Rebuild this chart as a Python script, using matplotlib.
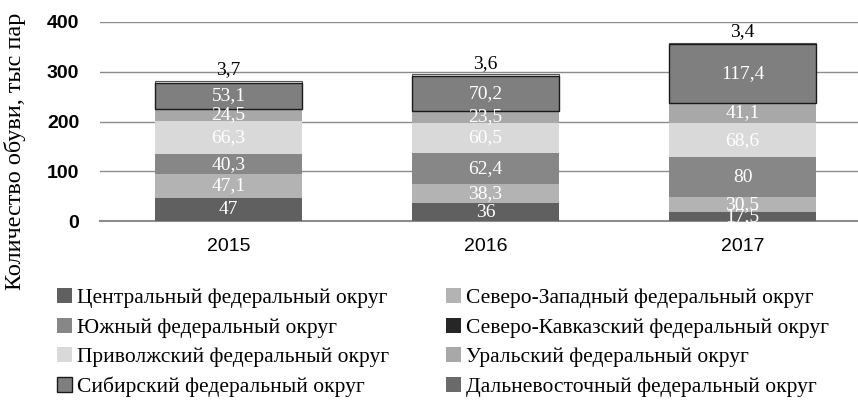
import matplotlib
matplotlib.use("Agg")
import matplotlib.pyplot as plt
from matplotlib.patches import Patch
import numpy as np

years = ["2015", "2016", "2017"]
series_names = [
    "Центральный федеральный округ",
    "Северо-Западный федеральный округ",
    "Южный федеральный округ",
    "Северо-Кавказский федеральный округ",
    "Приволжский федеральный округ",
    "Уральский федеральный округ",
    "Сибирский федеральный округ",
    "Дальневосточный федеральный округ",
]
central = [47, 36, 17.5]
northwest = [47.1, 38.3, 30.5]
south = [40.3, 62.4, 80]
caucasus = [0, 0, 0]
volga = [66.3, 60.5, 68.6]
ural = [24.5, 23.5, 41.1]
siberia = [53.1, 70.2, 117.4]
fareast = [3.7, 3.6, 3.4]
yticks = [0, 100, 200, 300, 400]

series = [central, northwest, south, caucasus, volga, ural, siberia, fareast]
colors = ["#606060", "#b3b3b3", "#878787", "#262626", "#d9d9d9", "#a8a8a8", "#7f7f7f", "#6a6a6a"]

fig = plt.figure(figsize=(8.58, 4.16), dpi=100)
ax = fig.add_axes([100/858, (416-221)/416, (858-100)/858, (221-22)/416])

x = np.arange(len(years))
bottom = np.zeros(len(years))
width = 0.57
serif = "Liberation Serif"
for i, vals in enumerate(series):
    vals = np.array(vals, dtype=float)
    if i == 6:
        ax.bar(x, vals, width, bottom=bottom, color=colors[i], edgecolor="#1a1a1a", linewidth=1.0, zorder=3)
    elif i == 7:
        ax.bar(x, vals, width, bottom=bottom, color="white", edgecolor="#555555", linewidth=0.8, zorder=2)
    else:
        ax.bar(x, vals, width, bottom=bottom, color=colors[i], linewidth=0, zorder=3)
    for j, v in enumerate(vals):
        if v <= 0:
            continue
        lab = ("%g" % v).replace(".", ",")
        if i == 7:
            ax.annotate(lab, (x[j], bottom[j] + v), xytext=(0, 2), textcoords="offset points",
                        ha="center", va="bottom", fontsize=14, family=serif, color="black", zorder=5)
        else:
            ax.text(x[j], bottom[j] + v / 2, lab, ha="center", va="center", fontsize=14,
                    family=serif, color="white", zorder=5)
    bottom += vals

ax.set_ylim(0, 400)
ax.set_yticks(yticks)
ax.set_xlim(-0.5, -0.5 + (858 - 100) / 257)
ax.set_xticks(x)
ax.set_xticklabels(years)
ax.yaxis.grid(True, color="#8c8c8c", linewidth=1.0, zorder=0)
ax.set_axisbelow(True)
for s in ["top", "right", "left"]:
    ax.spines[s].set_visible(False)
ax.spines["bottom"].set_color("#8c8c8c")
ax.spines["bottom"].set_linewidth(1.5)
ax.tick_params(axis="both", length=0)
ax.tick_params(axis="y", pad=15)
ax.tick_params(axis="x", pad=12)
for t in ax.get_yticklabels() + ax.get_xticklabels():
    t.set_fontfamily("Liberation Sans")
    t.set_fontsize(14)
for t in ax.get_yticklabels():
    t.set_fontweight("bold")

fig.text(15/858, 1 - 151/416, "Количество обуви, тыс пар", rotation=90, ha="center", va="center",
         fontsize=17.5, family=serif)

handles = [Patch(facecolor=c, edgecolor=("#1a1a1a" if k == 6 else c), linewidth=(1.0 if k == 6 else 0))
           for k, c in enumerate(colors)]
order = [0, 2, 4, 6, 1, 3, 5, 7]
leg = fig.legend([handles[k] for k in order], [series_names[k] for k in order], ncol=2,
                 loc="upper left", bbox_to_anchor=(57/858, 1 - 288/416), frameon=False,
                 prop={"family": serif, "size": 15.5}, handlelength=0.7, handleheight=0.7,
                 handletextpad=0.25, columnspacing=2.6, labelspacing=0.44, borderaxespad=0, borderpad=0)

fig.savefig("out.png", dpi=100)
